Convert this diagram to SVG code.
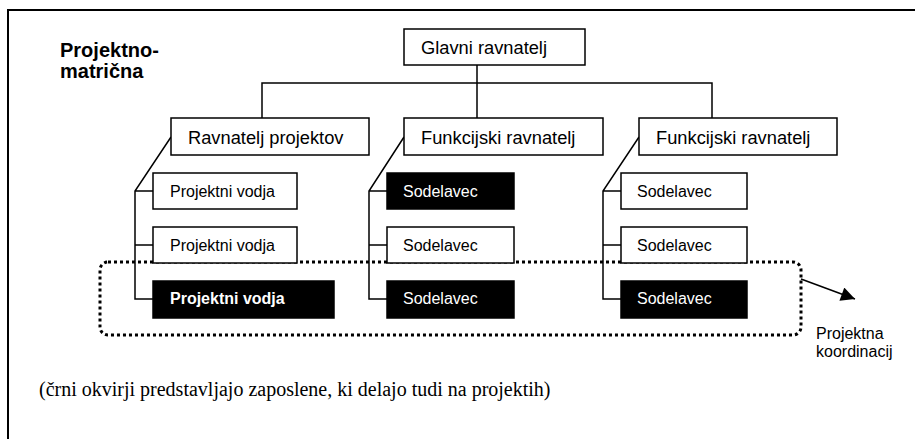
<svg xmlns="http://www.w3.org/2000/svg" width="915" height="439" viewBox="0 0 915 439">
<style>
.box{fill:#fff;stroke:#000;stroke-width:1.5}
.blk{fill:#000;stroke:#000;stroke-width:1.5}
.ln{fill:none;stroke:#000;stroke-width:1.5}
.t{font-family:"Liberation Sans",Arial,sans-serif;fill:#000}
.big{font-size:18.3px}
.sm{font-size:16px}
.w{fill:#fff}
</style>
<defs>
<marker id="ah" viewBox="0 0 10 10" refX="10" refY="5" markerWidth="15" markerHeight="14" markerUnits="userSpaceOnUse" orient="auto">
<path d="M0,0 L10,5 L0,10 z" fill="#000"/>
</marker>
</defs>
<rect width="915" height="439" fill="#fff"/>
<path d="M8,439 V10 H915" fill="none" stroke="#000" stroke-width="2"/>
<text class="t" x="60" y="57" font-size="20" font-weight="bold">Projektno-</text>
<text class="t" x="60" y="78" font-size="20" font-weight="bold">matrična</text>
<g id="connectors">
<path class="ln" d="M477,65 V118 M262,118 V83 H712 V118"/>
<path class="ln" d="M171,137 L135,191 V299 H153 M135,191 H153 M135,245 H153"/>
<path class="ln" d="M404,137 L369,191 V299 H387 M369,191 H387 M369,245 H387"/>
<path class="ln" d="M639,137 L603,191 V299 H621 M603,191 H621 M603,245 H621"/>
<rect x="100" y="262" width="701" height="73" rx="8" fill="none" stroke="#000" stroke-width="3" stroke-dasharray="3,3"/>
<line x1="801" y1="279" x2="855" y2="299" stroke="#000" stroke-width="1.5" marker-end="url(#ah)"/>
</g>
<g id="glavni"><rect class="box" x="404" y="29" width="181" height="36"/><text class="t big" x="421" y="54">Glavni ravnatelj</text></g>
<g id="ravnatelj-projektov"><rect class="box" x="171" y="118" width="198" height="37"/><text class="t big" x="188" y="144">Ravnatelj projektov</text></g>
<g id="funkcijski-1"><rect class="box" x="404" y="118" width="199" height="37"/><text class="t big" x="421" y="144">Funkcijski ravnatelj</text></g>
<g id="funkcijski-2"><rect class="box" x="639" y="118" width="198" height="37"/><text class="t big" x="656" y="144">Funkcijski ravnatelj</text></g>
<g id="pv1"><rect class="box" x="153" y="173" width="144" height="36"/><text class="t sm" x="170" y="197">Projektni vodja</text></g>
<g id="pv2"><rect class="box" x="153" y="227" width="144" height="36"/><text class="t sm" x="170" y="251">Projektni vodja</text></g>
<g id="pv3"><rect class="blk" x="153" y="281" width="181" height="37"/><text class="t sm w" x="170" y="304" font-weight="bold">Projektni vodja</text></g>
<g id="s1a"><rect class="blk" x="387" y="173" width="127" height="36"/><text class="t sm w" x="403" y="197">Sodelavec</text></g>
<g id="s1b"><rect class="box" x="387" y="227" width="127" height="36"/><text class="t sm" x="403" y="251">Sodelavec</text></g>
<g id="s1c"><rect class="blk" x="387" y="281" width="127" height="37"/><text class="t sm w" x="403" y="304">Sodelavec</text></g>
<g id="s2a"><rect class="box" x="621" y="173" width="126" height="36"/><text class="t sm" x="637" y="197">Sodelavec</text></g>
<g id="s2b"><rect class="box" x="621" y="227" width="126" height="36"/><text class="t sm" x="637" y="251">Sodelavec</text></g>
<g id="s2c"><rect class="blk" x="621" y="281" width="126" height="37"/><text class="t sm w" x="637" y="304">Sodelavec</text></g>
<text class="t sm" x="816" y="339">Projektna</text>
<text class="t sm" x="816" y="357">koordinacij</text>
<text x="39" y="396" font-family="'Liberation Serif','Times New Roman',serif" font-size="20">(črni okvirji predstavljajo zaposlene, ki delajo tudi na projektih)</text>
</svg>
